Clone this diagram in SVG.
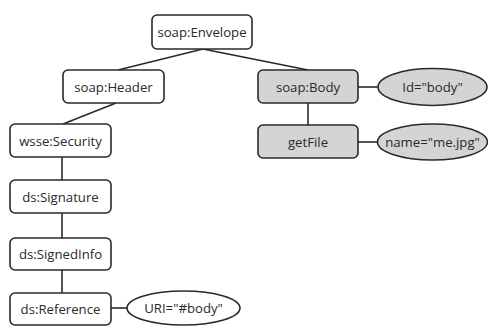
<svg xmlns="http://www.w3.org/2000/svg" width="488" height="327" viewBox="0 0 488 327">
<style>
.b{fill:#fff;stroke:#2a2a2a;stroke-width:1.6}
.g{fill:#d4d4d4;stroke:#2a2a2a;stroke-width:1.6}
.e{fill:#fff;stroke:#2a2a2a;stroke-width:1.6}
.eg{fill:#d4d4d4;stroke:#2a2a2a;stroke-width:1.6}
text{font-family:"Open Sans","DejaVu Sans",sans-serif;font-size:13.2px;fill:#2a2a2a;text-anchor:middle;dominant-baseline:central}
.c line{stroke:#2a2a2a;stroke-width:1.6}
</style>
<g class="c" id="connectors">
<line x1="203" y1="49" x2="118" y2="70"/>
<line x1="203" y1="49" x2="308" y2="70"/>
<line x1="116" y1="103" x2="63" y2="124"/>
<line x1="62" y1="157" x2="62" y2="180"/>
<line x1="62" y1="213" x2="62" y2="238"/>
<line x1="62" y1="270" x2="62" y2="293"/>
<line x1="111" y1="308" x2="127" y2="308"/>
<line x1="308" y1="103" x2="308" y2="125"/>
<line x1="358" y1="87" x2="378" y2="87"/>
<line x1="358" y1="142" x2="377" y2="142"/>
</g>
<g id="envelope"><rect class="b" x="152" y="15" width="100" height="34" rx="5"/><text x="202" y="32">soap:Envelope</text></g>
<g id="header"><rect class="b" x="63" y="70" width="101" height="33" rx="5"/><text x="113.5" y="86.5">soap:Header</text></g>
<g id="security"><rect class="b" x="10" y="124" width="101" height="33" rx="5"/><text x="60.5" y="140.5">wsse:Security</text></g>
<g id="signature"><rect class="b" x="10" y="180" width="101" height="33" rx="5"/><text x="60.5" y="196.5">ds:Signature</text></g>
<g id="signedinfo"><rect class="b" x="10" y="238" width="101" height="32" rx="5"/><text x="60.5" y="254">ds:SignedInfo</text></g>
<g id="reference"><rect class="b" x="10" y="293" width="101" height="32" rx="5"/><text x="60.5" y="309">ds:Reference</text></g>
<g id="uri"><ellipse class="e" cx="183.5" cy="308" rx="56.5" ry="17"/><text x="183.5" y="308">URI="#body"</text></g>
<g id="body"><rect class="g" x="258" y="70" width="100" height="33" rx="5"/><text x="308" y="86.5">soap:Body</text></g>
<g id="bodyid"><ellipse class="eg" cx="432.5" cy="87" rx="54.5" ry="18.5"/><text x="432.5" y="87">Id="body"</text></g>
<g id="getfile"><rect class="g" x="258" y="125" width="100" height="33" rx="5"/><text x="308" y="141.5">getFile</text></g>
<g id="name"><ellipse class="eg" cx="432.5" cy="142" rx="55" ry="18"/><text x="432.5" y="142">name="me.jpg"</text></g>
</svg>
